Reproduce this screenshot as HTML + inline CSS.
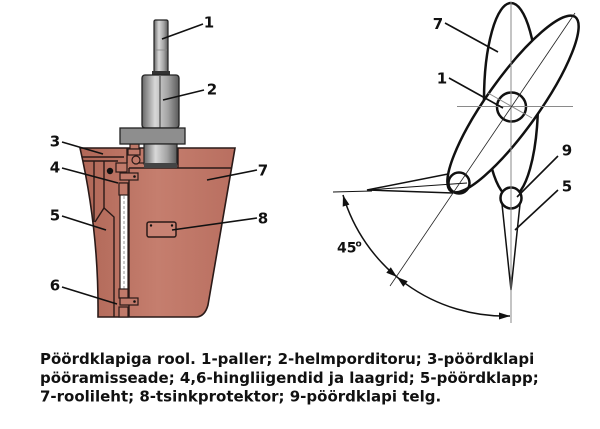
<!DOCTYPE html>
<html>
<head>
<meta charset="utf-8">
<style>
html,body{margin:0;padding:0;background:#fff;}
svg{display:block;}
text{font-family:"DejaVu Sans","Liberation Sans",sans-serif;font-weight:bold;fill:#111;}
</style>
</head>
<body>
<svg width="600" height="429" viewBox="0 0 600 429" xmlns="http://www.w3.org/2000/svg">
<defs>
  <linearGradient id="body" x1="0" x2="1" y1="0" y2="0">
    <stop offset="0" stop-color="#b06757"/>
    <stop offset="0.5" stop-color="#c57e6e"/>
    <stop offset="1" stop-color="#b96f60"/>
  </linearGradient>
  <linearGradient id="metal" x1="0" x2="1" y1="0" y2="0">
    <stop offset="0" stop-color="#666"/>
    <stop offset="0.35" stop-color="#d8d8d8"/>
    <stop offset="0.7" stop-color="#a3a3a3"/>
    <stop offset="1" stop-color="#5a5a5a"/>
  </linearGradient>
</defs>

<!-- ===== LEFT DRAWING ===== -->
<path d="M80,148 L235,148 L208,305 Q205,316 197,317 L98,317 Q99,231 80,148 Z" fill="url(#body)" stroke="#2a1a18" stroke-width="1.6"/>
<g stroke="#2a1a18" stroke-width="1.4" fill="none">
  <path d="M129,168 H231.6"/>
  <path d="M129,168 V317"/>
  <path d="M178,148 V168"/>
  <path d="M82,157 H124"/>
  <path d="M83,161 H118"/>
  <path d="M94,161 V222"/>
  <path d="M104,161 V208"/>
  <path d="M95,222 L104,208 L114,217 V317"/>
  <path d="M127,148 V163"/>
</g>
<g stroke="#2a1a18" stroke-width="1.2" fill="#c07a6a">
  <rect x="130" y="144" width="9" height="5"/>
  <rect x="128" y="149" width="12" height="6"/>
  <circle cx="136" cy="160" r="4"/>
  <rect x="116" y="163" width="11" height="9"/>
</g>
<path d="M138,163 H152" stroke="#2a1a18" stroke-width="1.2"/>
<circle cx="110" cy="171" r="3.2" fill="#111"/>

<rect x="120" y="183" width="8" height="110" fill="#fff" stroke="#2a1a18" stroke-width="1.2"/>
<path d="M124,196 V289" stroke="#999" stroke-width="1" stroke-dasharray="3,2"/>
<g stroke="#2a1a18" stroke-width="1.2" fill="#c07a6a">
  <rect x="119" y="183" width="9" height="12"/>
  <rect x="119" y="289" width="9" height="9"/>
  <rect x="119" y="307" width="9" height="10"/>
  <rect x="120" y="173" width="18" height="7"/>
  <rect x="120" y="298" width="18" height="7"/>
</g>
<circle cx="134.5" cy="176.5" r="1.3" fill="#111"/>
<circle cx="134.5" cy="301.5" r="1.3" fill="#111"/>

<rect x="147" y="222" width="29" height="15" rx="2" fill="#c88273" stroke="#2a1a18" stroke-width="1.5"/>
<circle cx="151" cy="225.5" r="1.2" fill="#111"/>
<circle cx="172" cy="225.5" r="1.2" fill="#111"/>

<rect x="154" y="20" width="14" height="53" rx="1.5" fill="url(#metal)" stroke="#222" stroke-width="1.2"/>
<path d="M155,50 H167" stroke="#888" stroke-width="0.8"/>
<rect x="152" y="71" width="18" height="4" fill="#333"/>
<rect x="142" y="75" width="37" height="53" rx="3" fill="url(#metal)" stroke="#222" stroke-width="1.3"/>
<path d="M160,76 V128" stroke="#333" stroke-width="1"/>
<rect x="120" y="128" width="65" height="16" fill="#8e8e8e" stroke="#222" stroke-width="1.3"/>
<rect x="144" y="144" width="33" height="20" fill="url(#metal)" stroke="#222" stroke-width="1.2"/>
<rect x="144" y="163" width="33" height="5" fill="#444"/>

<g stroke="#111" stroke-width="1.6">
  <path d="M203,24 L162,39"/>
  <path d="M204,90 L163,100"/>
  <path d="M62,142 L103,154"/>
  <path d="M62,168 L118,183"/>
  <path d="M62,216 L106,230"/>
  <path d="M62,287 L117,304"/>
  <path d="M257,170 L207,180"/>
  <path d="M257,218 L172,230"/>
</g>
<g font-size="15" text-anchor="middle">
  <text x="209" y="27.5">1</text>
  <text x="212" y="94.5">2</text>
  <text x="55" y="146.5">3</text>
  <text x="55" y="172.5">4</text>
  <text x="55" y="220.5">5</text>
  <text x="55" y="290.5">6</text>
  <text x="263" y="175.5">7</text>
  <text x="263" y="223.5">8</text>
</g>

<!-- ===== RIGHT DRAWING ===== -->
<ellipse cx="511" cy="100" rx="27" ry="97" fill="#fff" stroke="#111" stroke-width="2.5"/>
<ellipse cx="513" cy="104" rx="107" ry="26" transform="rotate(-54.5 513 104)" fill="#fff" stroke="#111" stroke-width="2.5"/>

<path d="M502,204 L511,290 L520,204" fill="#fff" stroke="#111" stroke-width="1.5"/>
<circle cx="511" cy="198" r="10.5" fill="#fff" stroke="#111" stroke-width="2.5"/>

<g stroke="#111" stroke-width="1.5" fill="none">
  <path d="M448,174 L367,190 L453,193"/>
  <path d="M367,190 L467,183" stroke-width="1"/>
  <path d="M333,192 L372,191" stroke-width="1"/>
</g>
<circle cx="459" cy="183" r="10.5" fill="none" stroke="#111" stroke-width="2.5"/>

<circle cx="511.5" cy="107" r="14.5" fill="none" stroke="#111" stroke-width="2.5"/>

<path d="M511,2 V323" stroke="#8a8a8a" stroke-width="1"/>
<path d="M457,106.5 H573" stroke="#8a8a8a" stroke-width="1"/>
<path d="M488,93 L532,118" stroke="#8a8a8a" stroke-width="1"/>
<path d="M575,13 L390,286" stroke="#222" stroke-width="0.8"/>

<path d="M343,195 A169,169 0 0,0 510,316" fill="none" stroke="#111" stroke-width="1.5"/>
<g fill="#111">
  <polygon points="343,195 349.4,204.6 342.7,206.6"/>
  <polygon points="397,277 386.3,272.7 390.8,267.3"/>
  <polygon points="397,277 407.7,281.3 403.3,286.7"/>
  <polygon points="510,316 499,312.5 499,319.5"/>
</g>

<g stroke="#111" stroke-width="1.6">
  <path d="M445,23 L498,52"/>
  <path d="M449,78 L503,108"/>
  <path d="M558,156 L517,197"/>
  <path d="M558,190 L515,230"/>
</g>
<g font-size="15" text-anchor="middle">
  <text x="438" y="29">7</text>
  <text x="442" y="83.5">1</text>
  <text x="567" y="155.5">9</text>
  <text x="567" y="191.5">5</text>
</g>
<text x="337" y="252.5" font-size="14">45</text>
<text x="355.5" y="246.5" font-size="9">o</text>

<!-- ===== CAPTION ===== -->
<g font-size="15">
  <text x="40" y="364">Pöördklapiga rool. 1-paller; 2-helmporditoru; 3-pöördklapi</text>
  <text x="40" y="383">pööramisseade; 4,6-hingliigendid ja laagrid; 5-pöördklapp;</text>
  <text x="40" y="401.5">7-roolileht; 8-tsinkprotektor; 9-pöördklapi telg.</text>
</g>
</svg>
</body>
</html>
